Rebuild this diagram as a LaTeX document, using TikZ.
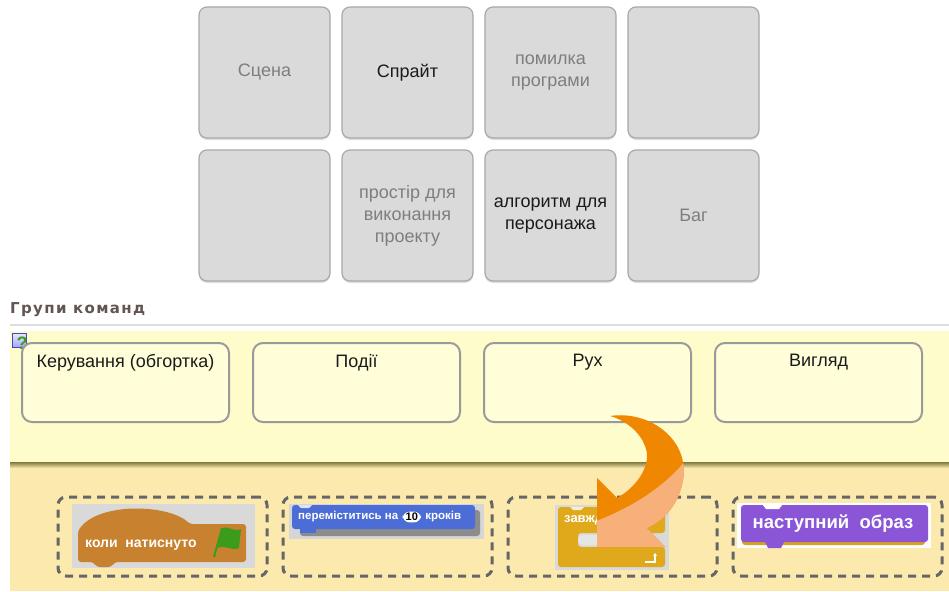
\documentclass[tikz,border=0pt]{standalone}
\usepackage{fontspec}
\setmainfont{Liberation Sans}
\newfontfamily\headfont[LetterSpace=9]{DejaVu Sans}
\usetikzlibrary{positioning,shadows,arrows.meta}
\definecolor{cardfill}{HTML}{DADADA}
\definecolor{cardline}{HTML}{A8A8A8}
\definecolor{cardgray}{HTML}{7E7E7E}
\definecolor{inkblack}{HTML}{1A1A1A}
\definecolor{headtext}{HTML}{62554F}
\definecolor{panelyellow}{HTML}{FFFCCC}
\definecolor{slotfill}{HTML}{FFFED9}
\definecolor{slotline}{HTML}{9A9A9A}
\definecolor{tanfill}{HTML}{FBE9AE}
\definecolor{dashgray}{HTML}{666666}
\definecolor{hatbrown}{HTML}{C8822F}
\definecolor{motionblue}{HTML}{4B6DD5}
\definecolor{controlgold}{HTML}{E0A81B}
\definecolor{looksviolet}{HTML}{8A55D7}
\definecolor{flaggreen}{HTML}{3D9B1C}
\definecolor{arroworange}{HTML}{F08700}
\definecolor{arrowlight}{HTML}{F7B07A}
\tikzset{>=Stealth, node distance=12pt,
card/.style={draw=cardline,fill=cardfill,line width=1.2pt,outer sep=0pt,rounded corners=8pt,minimum width=131pt,minimum height=131pt,inner sep=0pt,align=center,text=cardgray,font=\fontsize{18}{22}\selectfont,drop shadow={shadow xshift=0pt,shadow yshift=-2pt,opacity=.25}}, % grey answer cards
slot/.style={draw=slotline,fill=slotfill,line width=2pt,outer sep=0pt,rounded corners=10pt,minimum width=207pt,minimum height=79pt},
slottext/.style={anchor=north,yshift=-8pt,font=\fontsize{18}{20}\selectfont,text=inkblack},
drop/.style={draw=dashgray,line width=3pt,outer sep=0pt,dash pattern=on 8pt off 6pt,rounded corners=8pt,minimum width=209pt,minimum height=79pt},
blocktext/.style={text=white,inner sep=0pt,font=\bfseries\fontsize{#1}{#1}\selectfont}
}

\begin{document}
\begin{tikzpicture}[x=1pt,y=-1pt]
    \useasboundingbox (0,0) rectangle (949,591);
    \fill[white] (0,0) rectangle (949,591);

    \node[card] (C1) at (264.5,72.5) {Сцена};
    \node[card,right=of C1,text=inkblack] (C2) {Спрайт};
    \node[card,right=of C2] (C3) {помилка\\програми};
    \node[card,right=of C3] (C4) {};
    \node[card,below=of C1] (C5) {};
    \node[card,right=of C5] (C6) {простір для\\виконання\\проекту};
    \node[card,right=of C6,text=inkblack] (C7) {алгоритм для\\персонажа};
    \node[card,right=of C7] (C8) {Баг};

    \node[anchor=west,inner sep=0pt,text=headtext,font=\headfont\bfseries\fontsize{15}{15}\selectfont] (H) at (10,310) {Групи команд};
    \draw[black!13,line width=1.5pt] (10,325) -- (949,325);

    % yellow panel, its shadow and the tan tray below
    \fill[panelyellow] (10,331) rectangle (949,462);
    \fill[tanfill] (10,466) rectangle (949,591);
    \shade[top color=black!50!tanfill!70!olive,bottom color=tanfill] (10,462) rectangle (949,468);

    % help icon
    \shade[top color=blue!10,bottom color=blue!35,draw=blue!45!gray] (12.5,333.5) rectangle (26,347);
    \node[inner sep=0pt,text=flaggreen,font=\bfseries\fontsize{18}{18}\selectfont] (Q) at (22,343) {?};

    \node[slot,label={[slottext]north:Керування (обгортка)}] (S1) at (125.5,382.5) {};
    \node[slot,right=24pt of S1,label={[slottext]north:Події}] (S2) {};
    \node[slot,right=24pt of S2,label={[slottext]north:Рух}] (S3) {};
    \node[slot,right=24pt of S3,label={[slottext]north:Вигляд}] (S4) {};

    \node[drop] (D1) at (162.5,536.5) {};
    \node[drop,right=16pt of D1] (D2) {};
    \node[drop,right=16pt of D2] (D3) {};
    \node[drop,right=16pt of D3] (D4) {};

    % hat block with the green flag
    \fill[black!15] (72,504) rectangle (255,568);
    \fill[hatbrown,rounded corners=3pt] (78,531) .. controls (98,502) and (168,504) .. (190,524) -- (246,524) -- (246,562) -- (115,562) -- (111,567) -- (97,567) -- (93,562) -- (78,562) -- cycle;
    \node[blocktext=14,anchor=west] (B1) at (85,545) {коли\ \ натиснуто};
    \draw[flaggreen,line width=2pt] (214,557) -- (222,528);
    \fill[flaggreen] (221,529) .. controls (228,524) and (233,533) .. (241,529) -- (239,548) .. controls (232,552) and (226,544) .. (218,548) -- cycle;

    % motion block
    \fill[black!16] (289,504) rectangle (484,539);
    \fill[black!45,rounded corners=3pt] (300,510) rectangle (480,536);
    \fill[motionblue,rounded corners=3pt] (292,505) rectangle (475,529);
    \fill[motionblue] (300,528) rectangle (316,533);
    \fill[white!80!motionblue] (298,505) -- (301,508) -- (309,508) -- (312,505) -- cycle;
    \node[blocktext=11.5,anchor=west] (B2) at (298,517) {переміститись на};
    \node[fill=white,rounded corners=7pt,inner xsep=3pt,inner ysep=1.5pt,font=\bfseries\fontsize{11}{11}\selectfont,right=4pt of B2] (N2) {10};
    \node[blocktext=11.5,right=4pt of N2] (B2b) {кроків};

    % forever block
    \fill[black!15] (555,505) rectangle (669,570);
    \fill[controlgold,rounded corners=3pt] (558,507) -- (665,507) -- (665,533) -- (578,533) -- (578,547) -- (665,547) -- (665,567) -- (558,567) -- cycle;
    \fill[white!80!controlgold] (570,507) -- (573,510) -- (581,510) -- (584,507) -- cycle;
    \fill[black!10,rounded corners=4pt] (578,535) rectangle (610,545);
    \node[blocktext=13,anchor=west] (B3) at (564,520) {завжди};
    \draw[white,line width=1.6pt,-{Stealth[length=3pt,width=4pt]}] (645,562) -- (655,562) -- (655,553);

    % looks block
    \fill[white] (737,503) rectangle (931,548);
    \fill[controlgold!80!hatbrown,rounded corners=3pt] (742,536) rectangle (925,545);
    \fill[looksviolet,rounded corners=3pt] (741,505) rectangle (928,542);
    \fill[looksviolet] (764,540) -- (768,548) -- (781,548) -- (785,540) -- cycle;
    \fill[white] (762,504) -- (766,509) -- (779,509) -- (783,504) -- cycle;
    \node[blocktext=18.5] (B4) at (833,524) {наступний\ \ образ};

    % curved orange pointer
    \def\arrowpath{(610,416) .. controls (650,410) and (690,440) .. (683,480) .. controls (679,505) and (662,522) .. (647,528) -- (665,547) -- (597,547) -- (597,478) -- (617,498) .. controls (640,485) and (652,462) .. (645,446) .. controls (640,432) and (625,420) .. (610,416) -- cycle}
    \fill[arroworange] \arrowpath;
    \begin{scope}
        \clip \arrowpath;
        \fill[arrowlight] (594,522) .. controls (630,508) and (665,488) .. (690,455) -- (700,560) -- (590,560) -- cycle;
    \end{scope}
\end{tikzpicture}
\end{document}
